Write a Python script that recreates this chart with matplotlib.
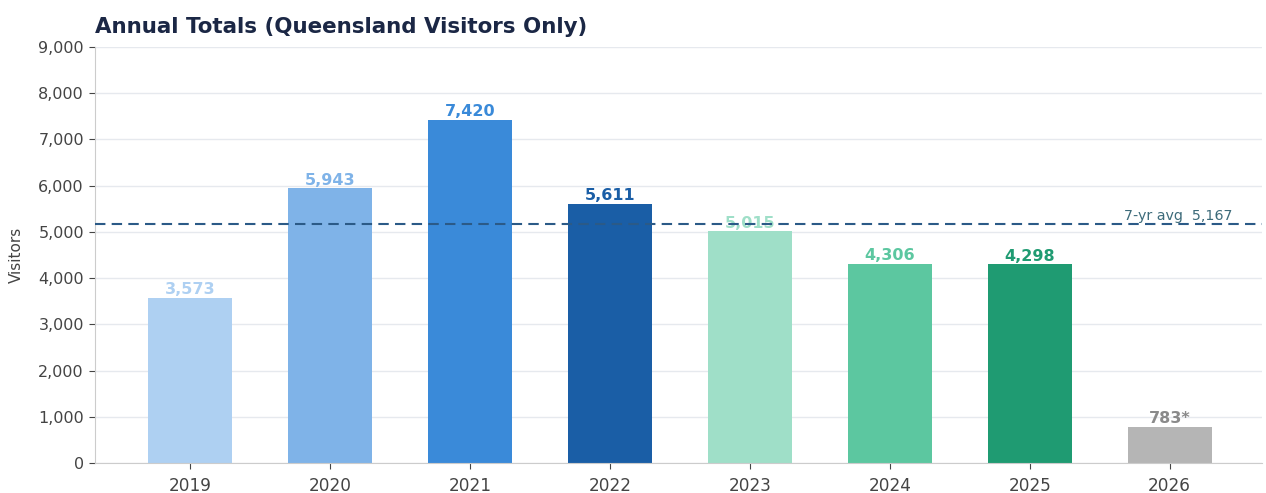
import matplotlib
matplotlib.use("Agg")
import matplotlib.pyplot as plt
import numpy as np

years = ["2019", "2020", "2021", "2022", "2023", "2024", "2025", "2026"]
visitors = [3573, 5943, 7420, 5611, 5015, 4306, 4298, 783]
labels = ["3,573", "5,943", "7,420", "5,611", "5,015", "4,306", "4,298", "783*"]
colors = ["#aed0f2", "#7fb3e8", "#3a8ad9", "#1a5ea6", "#9fdfc8", "#5cc7a0", "#1f9b72", "#b5b5b5"]
label_colors = ["#aed0f2", "#7fb3e8", "#3a8ad9", "#1a5ea6", "#9fdfc8", "#5cc7a0", "#1f9b72", "#8a8a8a"]

plt.rcParams['font.family'] = ['DejaVu Sans']
fig = plt.figure(figsize=(12.66, 4.93), dpi=100)
ax = fig.add_axes([95/1266, 1 - 463/493, (1262-95)/1266, (463-47)/493])

x = np.arange(len(years))
ax.bar(x, visitors, width=0.6, color=colors, zorder=2)
for xi, v, lab, c in zip(x, visitors, labels, label_colors):
    ax.text(xi, v + 15, lab, ha='center', va='bottom', fontsize=11.5, fontweight='bold', color=c, zorder=3)

avg = np.mean(visitors[:7])
ax.axhline(avg, color='#2b5a87', linestyle='--', linewidth=1.5, dashes=(5, 3), zorder=4)
ax.text(7.45, avg + 20, f"7-yr avg  {avg:,.0f}", ha='right', va='bottom', fontsize=10.3, color='#3d6b7a', zorder=5)

ax.set_xlim(-0.68, 7.66)
ax.set_ylim(0, 9000)
ax.set_yticks(np.arange(0, 9001, 1000))
ax.set_yticklabels([f"{v:,}" for v in range(0, 9001, 1000)])
ax.set_xticks(x)
ax.set_xticklabels(years)
ax.tick_params(axis='both', colors='#444444', length=4.5, color='#444444')
ax.tick_params(axis='y', labelsize=11.5, pad=3.5)
ax.tick_params(axis='x', labelsize=12.2, pad=5.5)
ax.yaxis.grid(True, color='#e6e9ee', linewidth=1, zorder=0)
ax.set_axisbelow(True)
for s in ['top', 'right']:
    ax.spines[s].set_visible(False)
for s in ['left', 'bottom']:
    ax.spines[s].set_color('#cccccc')
ax.set_ylabel("Visitors", fontsize=11, color='#444444', labelpad=10)

fig.text(95/1266, 1 - 27/493, "Annual Totals (Queensland Visitors Only)", fontsize=15.4, fontweight='bold', color='#1b2745', ha='left', va='center')

fig.savefig("out.png", dpi=100)
